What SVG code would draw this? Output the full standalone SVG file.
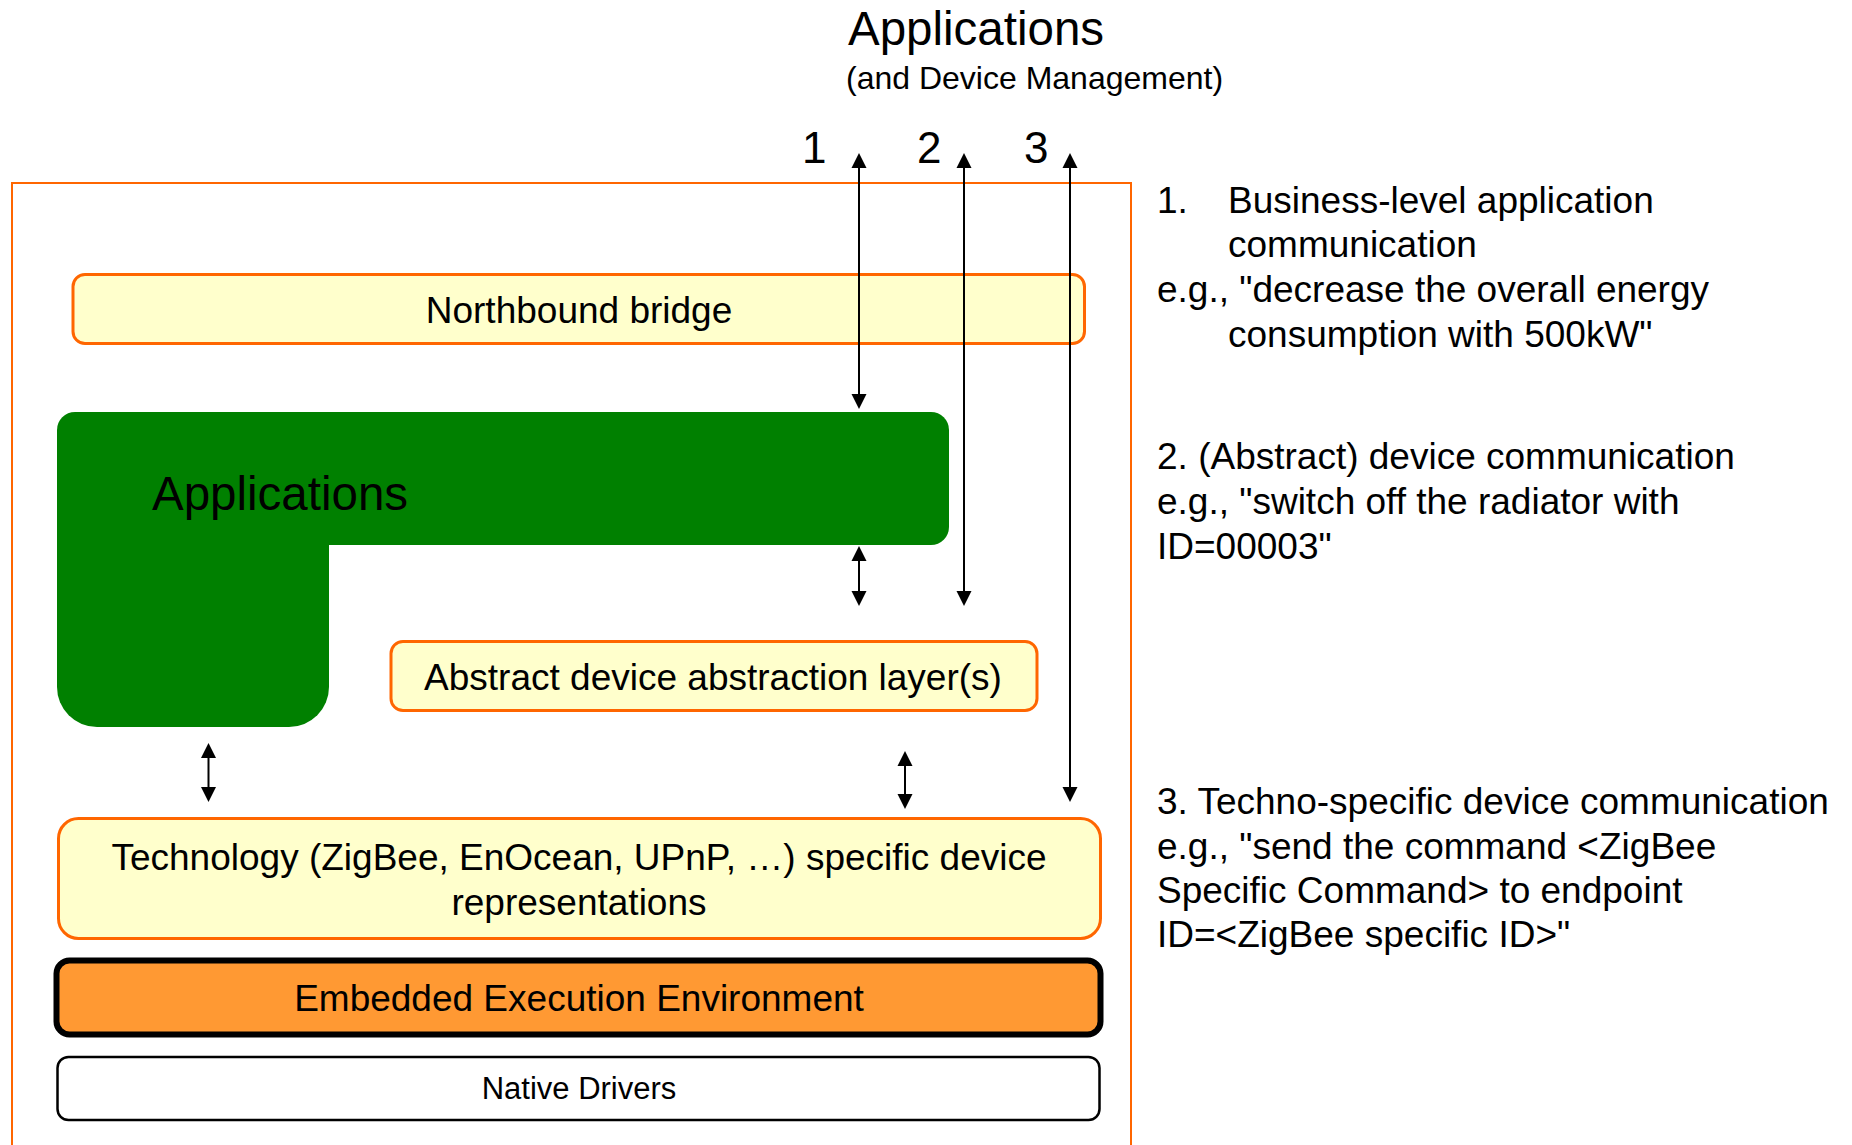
<svg xmlns="http://www.w3.org/2000/svg" width="1852" height="1145" viewBox="0 0 1852 1145">
  <style>
    text { font-family: "Liberation Sans", Arial, sans-serif; fill: #000; }
    .layer { fill: #FFFFCC; stroke: #FF6600; stroke-width: 3; }
    .lbl { font-size: 37px; text-anchor: middle; }
    .small { font-size: 31px; }
    .note { font-size: 37px; }
    .num { font-size: 44px; }
    .conn { stroke: #000; stroke-width: 2; fill: none; marker-start: url(#head); marker-end: url(#head); }
  </style>
  <defs>
    <marker id="head" viewBox="0 -8 16 16" markerWidth="16" markerHeight="16" refX="0" refY="0" markerUnits="userSpaceOnUse" orient="auto-start-reverse">
      <path d="M0,-7.5 L15,0 L0,7.5 Z" fill="#000"/>
    </marker>
  </defs>
  <rect width="1852" height="1145" fill="#fff"/>

  <!-- heading above the platform -->
  <g id="heading">
    <text x="848" y="45" font-size="47.5">Applications</text>
    <text x="846" y="89" font-size="32">(and Device Management)</text>
    <text class="num" x="802" y="163">1</text>
    <text class="num" x="917" y="163">2</text>
    <text class="num" x="1024" y="163">3</text>
  </g>

  <!-- platform frame -->
  <g id="platform">
    <rect x="12" y="183" width="1119" height="1000" fill="none" stroke="#FF6600" stroke-width="2"/>
  </g>

  <g id="northbound">
    <rect class="layer" x="73" y="274.5" width="1011.5" height="69" rx="12"/>
    <text class="lbl" x="579" y="323">Northbound bridge</text>
  </g>

  <g id="applications">
    <rect x="57" y="412" width="892" height="133" rx="18" fill="#008000"/>
    <rect x="57" y="470" width="272" height="257" rx="40" fill="#008000"/>
    <text x="152" y="510" font-size="47.5">Applications</text>
  </g>

  <g id="abstraction">
    <rect class="layer" x="391" y="641.5" width="646" height="69" rx="12"/>
    <text class="lbl" x="713" y="690">Abstract device abstraction layer(s)</text>
  </g>

  <g id="technology">
    <rect class="layer" x="58.5" y="818.5" width="1042" height="120" rx="20"/>
    <text class="lbl" x="579" y="870">Technology (ZigBee, EnOcean, UPnP, …) specific device</text>
    <text class="lbl" x="579" y="915">representations</text>
  </g>

  <g id="execution">
    <rect x="56.5" y="960.5" width="1044" height="74" rx="13" fill="#FF9933" stroke="#000" stroke-width="6"/>
    <text class="lbl" x="579" y="1011">Embedded Execution Environment</text>
  </g>

  <g id="drivers">
    <rect x="57.5" y="1057" width="1042" height="63" rx="11" fill="#fff" stroke="#000" stroke-width="2.5"/>
    <text class="lbl small" x="579" y="1099">Native Drivers</text>
  </g>

  <!-- communication paths -->
  <g id="connectors">
    <line class="conn" x1="859" y1="168" x2="859" y2="394"/>
    <line class="conn" x1="964" y1="168" x2="964" y2="591"/>
    <line class="conn" x1="1070" y1="168" x2="1070" y2="787"/>
    <line class="conn" x1="859" y1="561" x2="859" y2="591"/>
    <line class="conn" x1="208.5" y1="758" x2="208.5" y2="787"/>
    <line class="conn" x1="905" y1="766" x2="905" y2="794"/>
  </g>

  <!-- legend of the three paths -->
  <g id="legend">
    <text class="note" x="1157" y="213">1.</text>
    <text class="note" x="1228" y="213">Business-level application</text>
    <text class="note" x="1228" y="257">communication</text>
    <text class="note" x="1157" y="302">e.g., "decrease the overall energy</text>
    <text class="note" x="1228" y="347">consumption with 500kW"</text>
    <text class="note" x="1157" y="469">2. (Abstract) device communication</text>
    <text class="note" x="1157" y="514">e.g., "switch off the radiator with</text>
    <text class="note" x="1157" y="559">ID=00003"</text>
    <text class="note" x="1157" y="814">3. Techno-specific device communication</text>
    <text class="note" x="1157" y="859">e.g., "send the command &lt;ZigBee</text>
    <text class="note" x="1157" y="903">Specific Command&gt; to endpoint</text>
    <text class="note" x="1157" y="947">ID=&lt;ZigBee specific ID&gt;"</text>
  </g>
</svg>
